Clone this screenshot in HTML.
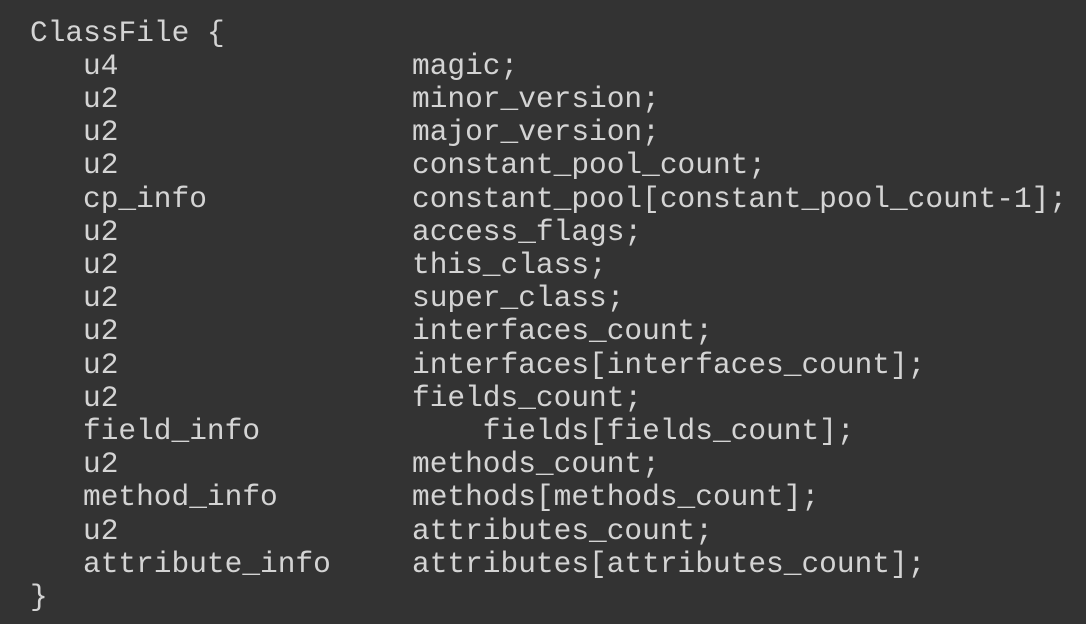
<!DOCTYPE html>
<html><head><style>
html,body{margin:0;padding:0;background:#333333;width:1086px;height:624px;overflow:hidden}
.l{position:absolute;white-space:pre;font-family:"Liberation Mono",monospace;font-size:29.5px;line-height:33.2px;color:#d4d4d4;height:33.2px}
</style></head><body>
<div id="c"></div>
<script>
var rows=[
["ClassFile {",""],
["u4","magic;"],
["u2","minor_version;"],
["u2","major_version;"],
["u2","constant_pool_count;"],
["cp_info","constant_pool[constant_pool_count-1];"],
["u2","access_flags;"],
["u2","this_class;"],
["u2","super_class;"],
["u2","interfaces_count;"],
["u2","interfaces[interfaces_count];"],
["u2","fields_count;"],
["field_info","    fields[fields_count];"],
["u2","methods_count;"],
["method_info","methods[methods_count];"],
["u2","attributes_count;"],
["attribute_info","attributes[attributes_count];"],
["}",""]];
var h="";
rows.forEach(function(r,i){
 var top=16.5+i*33.2;
 var x1=(i==0||i==rows.length-1)?30:83;
 h+='<div class="l" style="left:'+x1+'px;top:'+top+'px">'+r[0]+'</div>';
 if(r[1]) h+='<div class="l" style="left:412px;top:'+top+'px">'+r[1]+'</div>';
});
document.getElementById("c").innerHTML=h;
</script>
</body></html>
